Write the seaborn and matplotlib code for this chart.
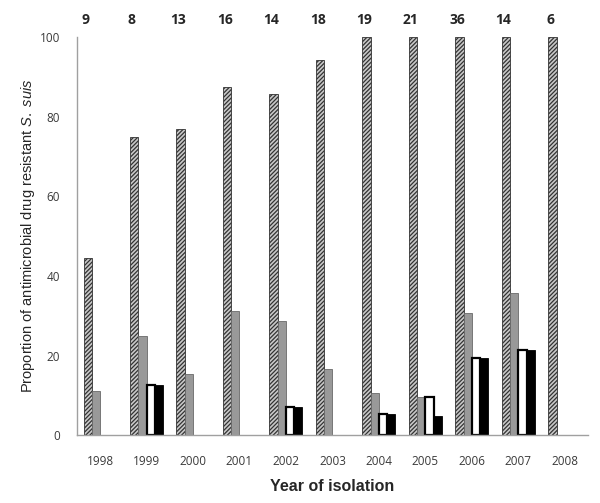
import pandas as pd
import numpy as np
import matplotlib
matplotlib.use('Agg')
import matplotlib.pyplot as plt
import matplotlib.transforms as mtransforms
import seaborn as sns

########### Datos ################################
anios = ['1998', '1999', '2000', '2001', '2002', '2003', '2004', '2005', '2006', '2007', '2008']
n_aislados = [9, 8, 13, 16, 14, 18, 19, 21, 36, 14, 6]
serie_rayada = [44.4, 75.0, 76.9, 87.5, 85.7, 94.4, 100, 100, 100, 100, 100]
serie_gris = [11.1, 25.0, 15.4, 31.3, 28.6, 16.7, 10.5, 9.5, 30.6, 35.7, np.nan]
serie_blanca = [np.nan, 12.5, np.nan, np.nan, 7.1, np.nan, 5.3, 9.5, 19.4, 21.4, np.nan]
serie_negra = [np.nan, 12.5, np.nan, np.nan, 7.1, np.nan, 5.3, 4.8, 19.4, 21.4, np.nan]

series = ['rayada', 'gris', 'blanca', 'negra']
df = pd.DataFrame({'anio': anios, 'rayada': serie_rayada, 'gris': serie_gris,
                   'blanca': serie_blanca, 'negra': serie_negra})
dd = pd.melt(df, id_vars=['anio'], value_vars=series, var_name='serie')

############ Grafica ############
sns.set_style("white")
plt.rcParams['font.family'] = ['Liberation Sans', 'DejaVu Sans']
plt.rcParams['mathtext.fontset'] = 'custom'
plt.rcParams['mathtext.it'] = 'Liberation Sans:italic'
plt.rcParams['mathtext.rm'] = 'Liberation Sans'
plt.rcParams['hatch.linewidth'] = 0.9

fig = plt.figure(figsize=(6, 5.03), dpi=100)
ax = fig.add_axes([0.128, 0.135, 0.852, 0.791])
width = 0.71
sns.barplot(data=dd, x='anio', y='value', hue='serie', order=anios, hue_order=series,
            errorbar=None, width=width, dodge=True, ax=ax, legend=False)

estilos = {
    'rayada': dict(facecolor='#c8c8c8', edgecolor='#333333', hatch='////////', linewidth=0.6),
    'gris': dict(facecolor='#999999', edgecolor='#6a6a6a', hatch=None, linewidth=0.6),
    'blanca': dict(facecolor='white', edgecolor='black', hatch=None, linewidth=1.6),
    'negra': dict(facecolor='black', edgecolor='black', hatch=None, linewidth=0.6),
}
for cont, s in zip(ax.containers, series):
    for p in cont.patches:
        p.set_facecolor(estilos[s]['facecolor'])
        p.set_edgecolor(estilos[s]['edgecolor'])
        p.set_linewidth(estilos[s]['linewidth'])
        if estilos[s]['hatch']:
            p.set_hatch(estilos[s]['hatch'])

ax.set_ylim(0, 100)
ax.set_xlim(-0.5, len(anios) - 0.5)
ax.set_yticks(range(0, 101, 20))
sns.despine(ax=ax)
for lado in ['left', 'bottom']:
    ax.spines[lado].set_color('#a0a0a0')
    ax.spines[lado].set_linewidth(1.0)
ax.tick_params(axis='both', length=0, labelcolor='#3a3a3a', labelsize=8.5)
ax.tick_params(axis='x', pad=14)
ax.tick_params(axis='y', pad=12)
for t in ax.get_xticklabels() + ax.get_yticklabels():
    t.set_family(['Open Sans', 'DejaVu Sans'])

ax.set_xlabel('Year of isolation', fontsize=11.5, fontweight='bold', labelpad=8)
ax.set_ylabel('Proportion of antimicrobial drug resistant $\\it{S.\\ suis}$', fontsize=10.5, labelpad=2)

# Numero de aislados sobre cada grupo (sobre la barra rayada)
trans = mtransforms.blended_transform_factory(ax.transData, ax.transAxes)
desplaz = -width * 3 / 8
for i, n in enumerate(n_aislados):
    ax.text(i + desplaz - 0.05, 1.043, str(n), transform=trans, ha='center', va='center',
            fontsize=10, fontweight='bold', family=['Open Sans', 'DejaVu Sans'])

plt.savefig('out.png', dpi=100)
